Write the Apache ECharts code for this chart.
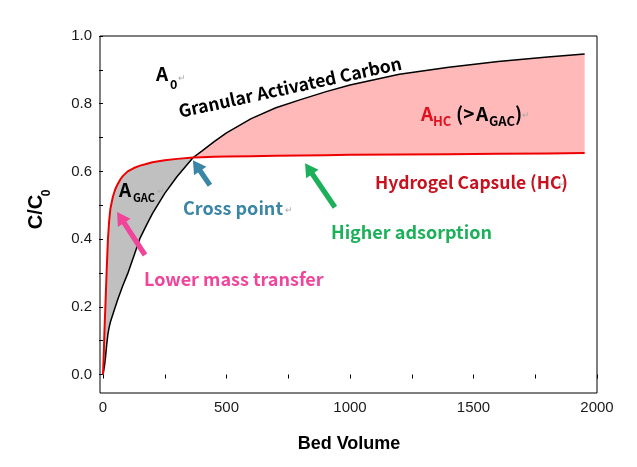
<!DOCTYPE html>
<html><head><meta charset="utf-8">
<script src="https://cdn.jsdelivr.net/npm/echarts@6/dist/echarts.min.js"></script>
<style>html,body{margin:0;padding:0;background:#fff}#c{width:637px;height:467px}</style>
</head><body><div id="c"></div>
<script>
// ---- data ----
const bedVolume = [0,3,6,10,15,20,25,30,40,50,60,70,80,100,125,150,175,200,250,300,365,400,450,500,600,700,800,900,1000,1200,1400,1600,1800,1950];
const gacValues = [0,0.012,0.025,0.05,0.088,0.12,0.14,0.155,0.178,0.2,0.222,0.242,0.262,0.298,0.35,0.403,0.44,0.475,0.535,0.585,0.641,0.66,0.688,0.714,0.756,0.788,0.812,0.835,0.855,0.887,0.908,0.925,0.938,0.947];
const hcValues  = [0,0.06,0.13,0.21,0.31,0.40,0.455,0.49,0.525,0.548,0.563,0.576,0.586,0.60,0.61,0.617,0.622,0.627,0.633,0.637,0.641,0.642,0.643,0.644,0.645,0.646,0.647,0.648,0.649,0.65,0.651,0.652,0.653,0.654];
const xTickLabels = ['0','500','1000','1500','2000'];
const yTickLabels = ['0.0','0.2','0.4','0.6','0.8','1.0'];
const crossBedVolume = 365;
// arrows: [tail, tip] in data coordinates
const arrowLowerMass = [[170,0.353],[57,0.48]];
const arrowCross     = [[433,0.559],[364,0.633]];
const arrowHigher    = [[939,0.494],[818,0.624]];

const pair = (arr) => bedVolume.map((v,i)=>[v,arr[i]]);
const tickFont = "'Liberation Sans Narrow','Liberation Sans',Arial,sans-serif";
const annFont = "'Noto Sans CJK KR','Noto Sans',sans-serif";

function regionPolygon(api, fromV, toV, upper, lower){
  const pts=[];
  for(let i=0;i<bedVolume.length;i++){ if(bedVolume[i]>=fromV && bedVolume[i]<=toV) pts.push(api.coord([bedVolume[i],upper[i]])); }
  for(let i=bedVolume.length-1;i>=0;i--){ if(bedVolume[i]>=fromV && bedVolume[i]<=toV) pts.push(api.coord([bedVolume[i],lower[i]])); }
  return pts;
}
function arrowPolygon(api, a){
  const t=api.coord(a[0]), p=api.coord(a[1]);
  const dx=p[0]-t[0], dy=p[1]-t[1], L=Math.hypot(dx,dy);
  const ux=dx/L, uy=dy/L, nx=-uy, ny=ux;
  const sw=2.6, hl=13, hw=7.5;
  const hx=p[0]-ux*hl, hy=p[1]-uy*hl;
  return [[t[0]+nx*sw,t[1]+ny*sw],[hx+nx*sw,hy+ny*sw],[hx+nx*hw,hy+ny*hw],[p[0],p[1]],
          [hx-nx*hw,hy-ny*hw],[hx-nx*sw,hy-ny*sw],[t[0]-nx*sw,t[1]-ny*sw]];
}
function txt(x,y,text,fill,size,extra){
  return Object.assign({type:'text', x:x, y:y, silent:true, z:100,
    style:{text:text, fill:fill, font:'bold '+size+'px '+annFont, textAlign:'left', textVerticalAlign:'middle'}}, extra||{});
}
const ret = (x,y)=>({type:'text',x:x,y:y,silent:true,z:100,style:{text:'\u21b5',fill:'#aaa',font:'9px sans-serif',textAlign:'left',textVerticalAlign:'middle'}});

const chart = echarts.init(document.getElementById('c'), null, {renderer:'canvas'});
chart.setOption({
  animation:false,
  backgroundColor:'#fff',
  grid:[
    {left:103,right:40,top:36,bottom:92.5},
    {left:100,right:40,top:36,bottom:74,show:true,borderColor:'#000',borderWidth:1,backgroundColor:'transparent'}
  ],
  xAxis:[
    {type:'value',gridIndex:0,min:0,max:2000,interval:250,offset:18,
     axisLine:{show:false},splitLine:{show:false},
     axisTick:{show:true,length:4,lineStyle:{color:'#000'}},
     axisLabel:{margin:8,color:'#1a1a1a',fontSize:15,fontFamily:tickFont,
       formatter:(v)=> xTickLabels.includes(String(v)) ? String(v) : ''}},
    {type:'value',gridIndex:1,show:false,min:0,max:1}
  ],
  yAxis:[
    {type:'value',gridIndex:0,min:0,max:1,interval:0.1,offset:3,
     axisLine:{show:false},splitLine:{show:false},
     axisTick:{show:true,length:4,lineStyle:{color:'#000'}},
     axisLabel:{margin:8,color:'#1a1a1a',fontSize:15,fontFamily:tickFont,
       formatter:(v)=>{const s=v.toFixed(1); return yTickLabels.includes(s)?s:'';}}},
    {type:'value',gridIndex:1,show:false,min:0,max:1}
  ],
  series:[
    {type:'custom',name:'areas',coordinateSystem:'cartesian2d',xAxisIndex:0,yAxisIndex:0,clip:false,silent:true,z:1,
     data:[[0,0]],
     renderItem:(params,api)=>({type:'group',children:[
       {type:'polygon',shape:{points:regionPolygon(api,0,crossBedVolume,hcValues,gacValues)},style:{fill:'#c0c0c0'}},
       {type:'polygon',shape:{points:regionPolygon(api,crossBedVolume,1e9,gacValues,hcValues)},style:{fill:'#ffb9b9'}}
     ]})},
    {type:'line',name:'Granular Activated Carbon',data:pair(gacValues),symbol:'none',smooth:false,
     lineStyle:{color:'#000',width:1.5},z:5},
    {type:'line',name:'Hydrogel Capsule (HC)',data:pair(hcValues),symbol:'none',smooth:false,
     lineStyle:{color:'#ee0000',width:2},z:6},
    {type:'custom',name:'arrows',coordinateSystem:'cartesian2d',xAxisIndex:0,yAxisIndex:0,clip:false,silent:true,z:10,
     data:[[0,0]],
     renderItem:(params,api)=>({type:'group',children:[
       {type:'polygon',shape:{points:arrowPolygon(api,arrowLowerMass)},style:{fill:'#f0459b'}},
       {type:'polygon',shape:{points:arrowPolygon(api,arrowCross)},style:{fill:'#3b86a6'}},
       {type:'polygon',shape:{points:arrowPolygon(api,arrowHigher)},style:{fill:'#1cb05a'}}
     ]})}
  ],
  graphic:[
    {type:'text',x:349,y:444,silent:true,style:{text:'Bed Volume',fill:'#000',font:"bold 18px 'Liberation Sans',Arial,sans-serif",textAlign:'center',textVerticalAlign:'middle'}},
    {type:'text',x:36,y:212,rotation:Math.PI/2,silent:true,style:{text:'C/C',fill:'#000',font:"bold 20px 'Liberation Sans',Arial,sans-serif",textAlign:'center',textVerticalAlign:'middle'}},
    {type:'text',x:46.5,y:193,rotation:Math.PI/2,silent:true,style:{text:'0',fill:'#000',font:"bold 12px 'Liberation Sans',Arial,sans-serif",textAlign:'center',textVerticalAlign:'middle'}},
    txt(156,74,'A','#000',19), txt(170,84,'0','#000',12.5), ret(178,79),
    {type:'text',x:290,y:87,rotation:12.3*Math.PI/180,silent:true,z:100,
     style:{text:'Granular Activated Carbon',fill:'#000',font:'bold 17.5px '+annFont,textAlign:'center',textVerticalAlign:'middle'}},
    txt(421,114,'A','#e01020',19), txt(433,121,'HC','#e01020',13),
    txt(456,114,'(>','#000',19), txt(476,114,'A','#000',19), txt(489,121,'GAC','#000',13), txt(515,114,')','#000',19), ret(522,116),
    txt(375,182,'Hydrogel Capsule (HC)','#c8101e',17.5), ret(558,185),
    txt(119,190,'A','#000',19), txt(133,198,'GAC','#000',11), ret(157,192),
    txt(183,208,'Cross point','#3b86a6',18), ret(285,211),
    txt(331,232,'Higher adsorption','#1cb05a',18),
    txt(144,279,'Lower mass transfer','#f0459b',18)
  ]
});
</script></body></html>
